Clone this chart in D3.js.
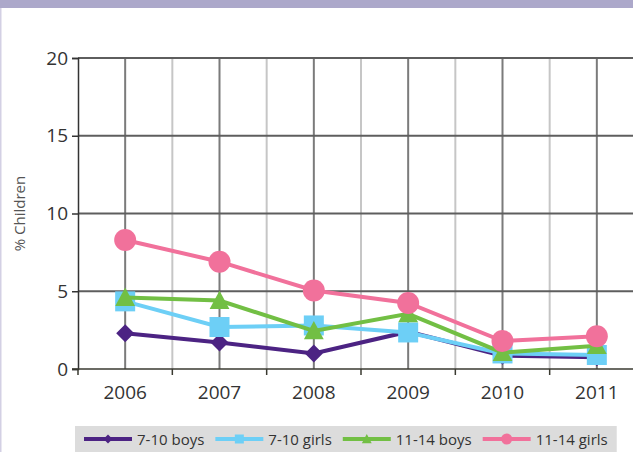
<!DOCTYPE html>
<html>
<head>
<meta charset="utf-8">
<script src="https://cdn.jsdelivr.net/npm/d3@7"></script>
<style>
  body { margin: 0; background: #fff; }
  svg { display: block; font-family: "Open Sans", sans-serif; }
</style>
</head>
<body>
<div id="chart"></div>
<script>
const years = ['2006', '2007', '2008', '2009', '2010', '2011'];
const yTicks = [0, 5, 10, 15, 20];

const boys7to10 = [2.3, 1.7, 1.0, 2.4, 0.85, 0.75];
const girls7to10 = [4.35, 2.7, 2.8, 2.35, 1.0, 0.9];
const boys11to14 = [4.6, 4.4, 2.45, 3.55, 1.05, 1.5];
const girls11to14 = [8.3, 6.9, 5.05, 4.25, 1.8, 2.1];

const seriesNames = ['7-10 boys', '7-10 girls', '11-14 boys', '11-14 girls'];
const seriesColors = ['#4c2383', '#6dcff6', '#72bf44', '#f1719b'];
const seriesShapes = ['diamond', 'square', 'triangle', 'circle'];

const series = [boys7to10, girls7to10, boys11to14, girls11to14].map((values, i) => ({
  name: seriesNames[i],
  color: seriesColors[i],
  shape: seriesShapes[i],
  values: values.map((v, j) => ({ year: years[j], value: v }))
}));

const width = 633;
const height = 452;
const margin = { top: 58, right: -11, bottom: 83, left: 78 };

const svg = d3.select('#chart').append('svg')
  .attr('width', width)
  .attr('height', height);

// header band and left border
svg.append('rect').attr('x', 0).attr('y', 0).attr('width', width).attr('height', 8).attr('fill', '#aca8ca');
svg.append('rect').attr('x', 0).attr('y', 8).attr('width', 1.5).attr('height', height).attr('fill', '#d3d0e4');

const x = d3.scaleBand()
  .domain(years)
  .range([margin.left, width - margin.right])
  .padding(0);

const y = d3.scaleLinear()
  .domain([0, 20])
  .range([height - margin.bottom, margin.top]);

const g = svg.append('g');

// vertical gridlines: light at band edges, dark at category centres
years.forEach(yr => {
  g.append('line')
    .attr('x1', x(yr) + x.bandwidth()).attr('x2', x(yr) + x.bandwidth())
    .attr('y1', y(20)).attr('y2', y(0))
    .attr('stroke', '#c6c6c6').attr('stroke-width', 2);
  g.append('line')
    .attr('x1', x(yr) + x.bandwidth() / 2).attr('x2', x(yr) + x.bandwidth() / 2)
    .attr('y1', y(20)).attr('y2', y(0))
    .attr('stroke', '#7b7b7b').attr('stroke-width', 2);
});

// horizontal gridlines
g.selectAll('.hgrid')
  .data(yTicks.filter(t => t > 0))
  .enter().append('line')
  .attr('class', 'hgrid')
  .attr('x1', margin.left).attr('x2', width)
  .attr('y1', d => y(d)).attr('y2', d => y(d))
  .attr('stroke', '#5e5e5e').attr('stroke-width', 2);

// y axis
const yAxis = d3.axisLeft(y).tickValues(yTicks).tickSize(6).tickPadding(4);
const yAxisGroup = svg.append('g')
  .attr('transform', 'translate(' + margin.left + ',0)')
  .call(yAxis);
yAxisGroup.select('.domain').attr('stroke', '#333').attr('stroke-width', 1.5);
yAxisGroup.selectAll('.tick line').attr('stroke', '#333').attr('stroke-width', 1.5);
yAxisGroup.selectAll('.tick text')
  .attr('font-size', 19).attr('fill', '#333').attr('font-family', '"Open Sans", sans-serif');

// x axis: ticks sit on the band edges
const xAxisGroup = svg.append('g')
  .attr('transform', 'translate(0,' + y(0) + ')');
xAxisGroup.append('line')
  .attr('x1', margin.left - 6).attr('x2', width)
  .attr('y1', 0).attr('y2', 0)
  .attr('stroke', '#3a3a30').attr('stroke-width', 1.5);
xAxisGroup.selectAll('.xtick')
  .data([years[0]].concat(years))
  .enter().append('line')
  .attr('class', 'xtick')
  .attr('x1', (d, i) => i === 0 ? x(d) : x(d) + x.bandwidth())
  .attr('x2', (d, i) => i === 0 ? x(d) : x(d) + x.bandwidth())
  .attr('y1', 0).attr('y2', 6)
  .attr('stroke', '#3a3a30').attr('stroke-width', 1.5);
xAxisGroup.selectAll('.xlabel')
  .data(years)
  .enter().append('text')
  .attr('class', 'xlabel')
  .attr('x', d => x(d) + x.bandwidth() / 2)
  .attr('y', 30)
  .attr('text-anchor', 'middle')
  .attr('font-size', 19)
  .attr('fill', '#333')
  .text(d => d);

// y axis title
svg.append('text')
  .attr('transform', 'translate(25,' + ((y(0) + y(20)) / 2) + ') rotate(-90)')
  .attr('text-anchor', 'middle')
  .attr('font-size', 15)
  .attr('fill', '#555')
  .text('% Children');

function drawMarker(sel, shape, color, size) {
  if (shape === 'circle') {
    sel.append('circle').attr('r', size * 0.55).attr('fill', color);
  } else if (shape === 'square') {
    sel.append('rect')
      .attr('x', -size / 2).attr('y', -size / 2)
      .attr('width', size).attr('height', size)
      .attr('fill', color);
  } else if (shape === 'diamond') {
    const s = size * 0.5;
    sel.append('path').attr('d', 'M0,' + -s + 'L' + s + ',0L0,' + s + 'L' + -s + ',0Z').attr('fill', color);
  } else {
    const s = size * 0.55;
    sel.append('path').attr('d', 'M0,' + (-s) + 'L' + s + ',' + (s * 0.85) + 'L' + -s + ',' + (s * 0.85) + 'Z').attr('fill', color);
  }
}

const line = d3.line()
  .x(d => x(d.year) + x.bandwidth() / 2)
  .y(d => y(d.value));

const markerSize = { diamond: 18, square: 20, triangle: 18, circle: 20 };

series.forEach(s => {
  const sg = svg.append('g');
  sg.append('path')
    .datum(s.values)
    .attr('d', line)
    .attr('fill', 'none')
    .attr('stroke', s.color)
    .attr('stroke-width', 4);
  sg.selectAll('.pt')
    .data(s.values)
    .enter().append('g')
    .attr('class', 'pt')
    .attr('transform', d => 'translate(' + (x(d.year) + x.bandwidth() / 2) + ',' + y(d.value) + ')')
    .each(function () { drawMarker(d3.select(this), s.shape, s.color, markerSize[s.shape]); });
});

// legend
const legend = svg.append('g');
const legendBg = legend.append('rect')
  .attr('y', 426).attr('height', 26)
  .attr('fill', '#dcdcdc');
const legendY = 439;
const legendMarker = { diamond: 9, square: 9, triangle: 9, circle: 10 };
let cx = 84;
series.forEach(s => {
  const ig = legend.append('g');
  ig.append('line')
    .attr('x1', cx).attr('x2', cx + 48)
    .attr('y1', legendY).attr('y2', legendY)
    .attr('stroke', s.color).attr('stroke-width', 4);
  const mg = ig.append('g').attr('transform', 'translate(' + (cx + 24) + ',' + legendY + ')');
  drawMarker(mg, s.shape, s.color, legendMarker[s.shape]);
  const t = ig.append('text')
    .attr('x', cx + 53)
    .attr('y', legendY + 5.5)
    .attr('font-size', 15)
    .attr('fill', '#333')
    .text(s.name);
  cx = cx + 53 + t.node().getComputedTextLength() + 11;
});
legendBg.attr('x', 75).attr('width', cx - 75 - 2);
</script>
</body>
</html>
